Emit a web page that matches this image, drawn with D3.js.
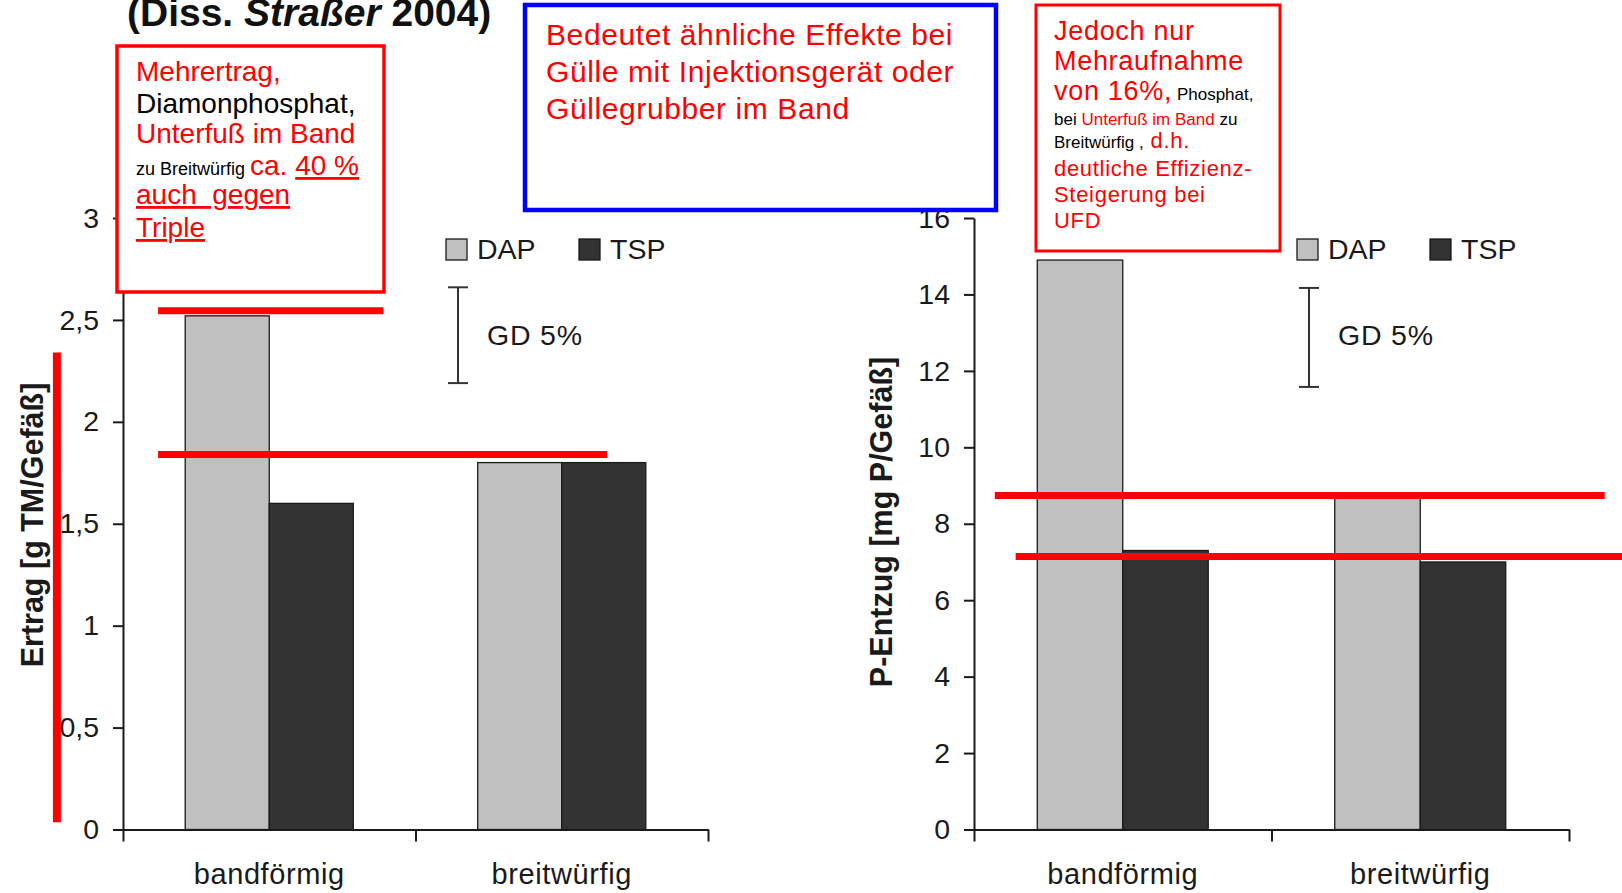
<!DOCTYPE html>
<html>
<head>
<meta charset="utf-8">
<script src="https://cdn.jsdelivr.net/npm/d3@7"></script>
<style>
    body { margin: 0; background: #fff; }
    svg { display: block; }
    text { font-family: "Liberation Sans", Arial, sans-serif; }
</style>
</head>
<body>
<svg id="chart" width="1622" height="893"></svg>
<script>
(function () {
    'use strict';

    var categories = ["bandförmig", "breitwürfig"];
    var series = ["DAP", "TSP"];

    // Ertrag [g TM/Gefäß]
    var ertragDAP = [2.52, 1.80];
    var ertragTSP = [1.60, 1.80];
    var ertragTicks = [0, 0.5, 1, 1.5, 2, 2.5, 3];
    var ertragGD = [2.19, 2.66];

    // P-Entzug [mg P/Gefäß]
    var entzugDAP = [14.9, 8.7];
    var entzugTSP = [7.3, 7.0];
    var entzugTicks = [0, 2, 4, 6, 8, 10, 12, 14, 16];
    var entzugGD = [11.58, 14.17];

    // red marker lines: [value, from, to] (from/to in category units)
    var ertragMarks = [[2.545, 0.12, 0.89], [1.84, 0.12, 1.655]];
    var entzugMarks = [[8.74, 0.07, 2.12], [7.14, 0.14, 2.3]];
    // vertical marker: [category pos, from value, to value]
    var ertragVMarks = [[-0.226, 0.035, 2.34]];

    var color = d3.scaleOrdinal().domain(series).range(["#c0c0c0", "#333333"]);
    var de = d3.formatLocale({decimal: ",", thousands: ".", grouping: [3], currency: ["", " €"]});
    var fmt = de.format("~g");

    var svg = d3.select("#chart");

    var panels = [
        {left: 123, right: 708, max: 3, ticks: ertragTicks, values: [ertragDAP, ertragTSP],
         gd: ertragGD, marks: ertragMarks, vmarks: ertragVMarks,
         title: "Ertrag [g TM/Gefäß]", titleX: 43, titleY: 525},
        {left: 974, right: 1569, max: 16, ticks: entzugTicks, values: [entzugDAP, entzugTSP],
         gd: entzugGD, marks: entzugMarks, vmarks: [],
         title: "P-Entzug [mg P/Gefäß]", titleX: 892, titleY: 522}
    ];

    var scales = panels.map(drawPanel);

    // title (partly cut off at the top, as in the source slide)
    var title = svg.append("text")
        .attr("x", 127).attr("y", 26)
        .style("font-size", "39px").style("font-weight", "bold").attr("fill", "#111");
    title.append("tspan").text("(Diss. ");
    title.append("tspan").style("font-style", "italic").text("Straßer");
    title.append("tspan").text(" 2004)");

    // annotation boxes
    addBox(117, 46, 267, 246, "#ff0000", 3.5, 136, 0, [
        {y: 81, parts: [["Mehrertrag,", 28, "#ff0000"]]},
        {y: 113, parts: [["Diamonphosphat,", 28, "#000"]]},
        {y: 143, parts: [["Unterfuß im Band", 28, "#ff0000"]]},
        {y: 175, parts: [["zu Breitwürfig ", 18, "#000"], ["ca. ", 28, "#ff0000"], ["40 %", 28, "#ff0000", true]]},
        {y: 204, parts: [["auch\u00a0 gegen", 28, "#ff0000", true]]},
        {y: 237, parts: [["Triple", 28, "#ff0000", true]]}
    ]);

    addBox(525, 5, 471, 205, "#0000ff", 4.5, 546, 0.6, [
        {y: 45, parts: [["Bedeutet ähnliche Effekte bei", 30, "#ff0000"]]},
        {y: 82, parts: [["Gülle mit Injektionsgerät oder", 30, "#ff0000"]]},
        {y: 119, parts: [["Güllegrubber im Band", 30, "#ff0000"]]}
    ]);

    addBox(1036, 5, 244, 246, "#ff0000", 3, 1054, 0.7, [
        {y: 40, parts: [["Jedoch nur", 27, "#ff0000"]]},
        {y: 70, parts: [["Mehraufnahme", 27, "#ff0000"]]},
        {y: 100, parts: [["von 16%,", 27, "#ff0000"], [" Phosphat,", 17, "#000"]]},
        {y: 125, parts: [["bei ", 17, "#000"], ["Unterfuß im Band", 17, "#ff0000"], [" zu", 17, "#000"]]},
        {y: 148, parts: [["Breitwürfig ,", 17, "#000"], [" d.h.", 22, "#ff0000"]]},
        {y: 176, parts: [["deutliche Effizienz-", 22, "#ff0000"]]},
        {y: 202, parts: [["Steigerung bei", 22, "#ff0000"]]},
        {y: 228, parts: [["UFD", 22, "#ff0000"]]}
    ]);

    // red markers on top of everything
    panels.forEach(function (p, i) {
        var s = scales[i];
        svg.append("g").selectAll("line")
            .data(p.marks)
            .join("line")
            .attr("x1", function (d) { return s.xu(d[1]); })
            .attr("x2", function (d) { return s.xu(d[2]); })
            .attr("y1", function (d) { return s.y(d[0]); })
            .attr("y2", function (d) { return s.y(d[0]); })
            .attr("stroke", "#ff0000").attr("stroke-width", 7);
        svg.append("g").selectAll("line")
            .data(p.vmarks)
            .join("line")
            .attr("x1", function (d) { return s.xu(d[0]); })
            .attr("x2", function (d) { return s.xu(d[0]); })
            .attr("y1", function (d) { return s.y(d[1]); })
            .attr("y2", function (d) { return s.y(d[2]); })
            .attr("stroke", "#ff0000").attr("stroke-width", 8);
    });

    function drawPanel(p) {
        var g = svg.append("g");
        var y = d3.scaleLinear().domain([0, p.max]).range([829.5, 218]);
        var x0 = d3.scaleBand().domain(categories).range([p.left, p.right]);
        var x1 = d3.scaleBand().domain(series).range([0, x0.bandwidth()]).paddingOuter(0.74);
        var xu = d3.scaleLinear().domain([0, categories.length]).range([p.left, p.right]);

        var rows = categories.map(function (c, i) {
            return {cat: c, vals: series.map(function (s, j) { return {s: s, v: p.values[j][i]}; })};
        });

        g.append("g").selectAll("g")
            .data(rows)
            .join("g")
            .attr("transform", function (d) { return "translate(" + x0(d.cat) + ",0)"; })
            .selectAll("rect")
            .data(function (d) { return d.vals; })
            .join("rect")
            .attr("x", function (d) { return x1(d.s); })
            .attr("width", x1.bandwidth())
            .attr("y", function (d) { return y(d.v); })
            .attr("height", function (d) { return y(0) - y(d.v); })
            .attr("fill", function (d) { return color(d.s); })
            .attr("stroke", "#1a1a1a").attr("stroke-width", 1.3);

        // y axis
        var ya = g.append("g")
            .attr("transform", "translate(" + p.left + ",0)")
            .call(d3.axisLeft(y).tickValues(p.ticks).tickFormat(fmt)
                .tickSize(10).tickSizeOuter(0).tickPadding(14));
        styleAxis(ya);
        ya.selectAll("text").style("font-size", "28.5px");

        // x axis: boundary ticks
        var xa = g.append("g")
            .attr("transform", "translate(0," + y(0) + ")")
            .call(d3.axisBottom(xu).tickValues(d3.range(categories.length + 1))
                .tickFormat("").tickSize(12).tickSizeOuter(0));
        styleAxis(xa);

        // category labels
        var xl = g.append("g")
            .attr("transform", "translate(0," + y(0) + ")")
            .call(d3.axisBottom(x0).tickSize(0).tickPadding(34));
        xl.select(".domain").remove();
        xl.selectAll("text")
            .style("font-size", "29px").style("letter-spacing", "0.6px")
            .attr("fill", "#1a1a1a");

        // y title
        g.append("text")
            .attr("transform", "translate(" + p.titleX + "," + p.titleY + ") rotate(-90)")
            .attr("text-anchor", "middle")
            .style("font-size", "30.5px").style("font-weight", "bold")
            .attr("fill", "#1a1a1a")
            .text(p.title);

        // legend
        var lg = g.append("g").selectAll("g")
            .data(series)
            .join("g")
            .attr("transform", function (d, i) { return "translate(" + (p.left + 323 + i * 133) + ",239)"; });
        lg.append("rect")
            .attr("width", 21).attr("height", 21)
            .attr("fill", function (d) { return color(d); })
            .attr("stroke", "#1a1a1a").attr("stroke-width", 1.3);
        lg.append("text")
            .attr("x", 31).attr("y", 19.5)
            .style("font-size", "28.5px").attr("fill", "#1a1a1a")
            .text(function (d) { return d; });

        // GD 5% bar
        var gx = p.left + 335;
        var gd = g.append("g").attr("stroke", "#333").attr("stroke-width", 2);
        gd.append("line").attr("x1", gx).attr("x2", gx).attr("y1", y(p.gd[0])).attr("y2", y(p.gd[1]));
        gd.selectAll("line.cap")
            .data(p.gd)
            .join("line")
            .attr("class", "cap")
            .attr("x1", gx - 10).attr("x2", gx + 10)
            .attr("y1", function (d) { return y(d); })
            .attr("y2", function (d) { return y(d); });
        g.append("text")
            .attr("x", p.left + 364).attr("y", 345)
            .style("font-size", "28.5px").style("letter-spacing", "0.8px")
            .attr("fill", "#1a1a1a")
            .text("GD 5%");

        return {y: y, xu: xu};
    }

    function styleAxis(a) {
        a.select(".domain").attr("stroke", "#1a1a1a").attr("stroke-width", 2);
        a.selectAll(".tick line").attr("stroke", "#1a1a1a").attr("stroke-width", 2);
        a.selectAll("text").attr("fill", "#1a1a1a");
    }

    function addBox(x, y, w, h, stroke, sw, tx, ls, lines) {
        var b = svg.append("g");
        b.append("rect")
            .attr("x", x).attr("y", y).attr("width", w).attr("height", h)
            .attr("fill", "#fff").attr("stroke", stroke).attr("stroke-width", sw);
        lines.forEach(function (ln) {
            var t = b.append("text").attr("x", tx).attr("y", ln.y);
            ln.parts.forEach(function (pt) {
                t.append("tspan")
                    .style("font-size", pt[1] + "px")
                    .style("letter-spacing", (pt[1] >= 22 ? ls : 0) + "px")
                    .style("text-decoration", pt[3] ? "underline" : null)
                    .attr("fill", pt[2])
                    .text(pt[0]);
            });
        });
    }
}());
</script>
</body>
</html>
